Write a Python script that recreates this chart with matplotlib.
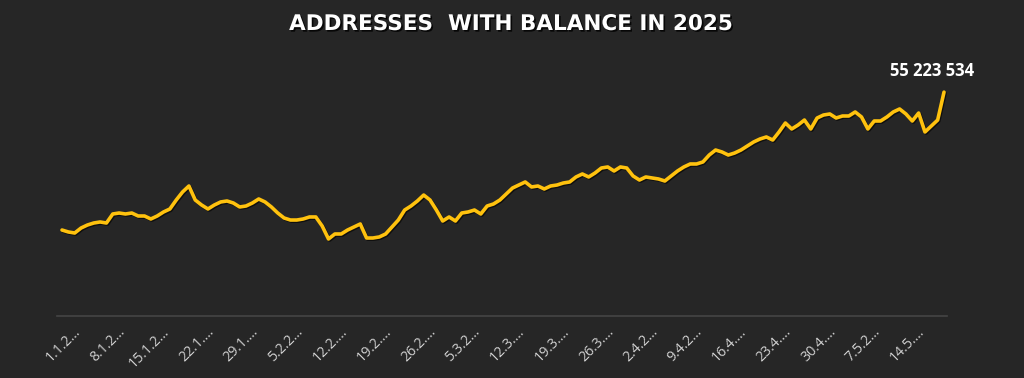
import matplotlib
matplotlib.use("Agg")
import matplotlib.pyplot as plt
import matplotlib.patheffects as pe
import matplotlib.transforms as mtransforms
import numpy as np
import pandas as pd

# ---- data (thousands of addresses), daily from 1 Jan 2025 ----
start_date = "2025-01-01"
values_k = [
    53238, 53210, 53195, 53267, 53310, 53339, 53354, 53339, 53469, 53483,
    53469, 53483, 53440, 53440, 53397, 53440, 53498, 53541, 53670, 53786,
    53872, 53670, 53598, 53541, 53598, 53642, 53656, 53627, 53570, 53584,
    53627, 53685, 53642, 53570, 53483, 53411, 53382, 53382, 53397, 53426,
    53426, 53296, 53109, 53181, 53181, 53238, 53282, 53325, 53123, 53123,
    53138, 53181, 53282, 53382, 53526, 53584, 53656, 53742, 53670, 53526,
    53368, 53426, 53368, 53483, 53498, 53526, 53469, 53584, 53613, 53670,
    53757, 53843, 53886, 53930, 53858, 53872, 53829, 53872, 53886, 53915,
    53930, 54002, 54045, 54002, 54059, 54131, 54146, 54088, 54146, 54131,
    54016, 53958, 54002, 53987, 53973, 53944, 54016, 54088, 54146, 54189,
    54189, 54218, 54318, 54390, 54362, 54318, 54347, 54390, 54448, 54506,
    54549, 54578, 54534, 54650, 54779, 54693, 54750, 54822, 54693, 54851,
    54894, 54909, 54851, 54880, 54880, 54938, 54866, 54693, 54808, 54808,
    54866, 54938, 54981, 54909, 54808, 54923, 54650, 54736, 54822, 55223.534,
]
tick_days = [0, 7, 14, 21, 28, 35, 42, 49, 56, 63, 70, 77, 84, 91, 98, 105, 112, 119, 126, 133]
tick_labels = ["1.1.2...", "8.1.2...", "15.1.2...", "22.1....", "29.1....", "5.2.2...",
               "12.2....", "19.2....", "26.2....", "5.3.2...", "12.3....", "19.3....",
               "26.3....", "2.4.2...", "9.4.2...", "16.4....", "23.4....", "30.4....",
               "7.5.2...", "14.5...."]
title = "ADDRESSES  WITH BALANCE IN 2025"

dates = pd.date_range(start_date, periods=len(values_k), freq="D")
values = np.array(values_k) * 1000.0
days = np.arange(len(values))

BG = "#262626"
LINE = "#FFC20E"

fig = plt.figure(figsize=(10.24, 3.78), dpi=100, facecolor=BG)
ax = fig.add_axes([57 / 1024, 62 / 378, 890 / 1024, 256 / 378])
ax.set_facecolor(BG)

ax.plot(days, values, color=LINE, lw=2.6, solid_joinstyle="round", solid_capstyle="round",
        path_effects=[pe.SimpleLineShadow(offset=(0.8, -0.8), shadow_color="black", alpha=0.6),
                      pe.Normal()])

ax.set_xlim(-0.79, 139.47)
ax.set_ylim(52000000, 52000000 + 256 * 14400)

for s in ["top", "left", "right"]:
    ax.spines[s].set_visible(False)
ax.spines["bottom"].set_color("#454545")
ax.spines["bottom"].set_linewidth(1.2)
ax.set_yticks([])

ax.set_xticks(tick_days)
ax.set_xticklabels(tick_labels, rotation=45, ha="right", va="top", rotation_mode="anchor",
                   fontsize=10.2, color="#d0d0d0", family=["Open Sans", "DejaVu Sans"])
ax.tick_params(axis="x", length=0, pad=6)
offset = mtransforms.ScaledTranslation(11 / 100, 0, fig.dpi_scale_trans)
for lab in ax.get_xticklabels():
    lab.set_transform(lab.get_transform() + offset)

last_val = values[-1]
label = f"{int(round(last_val)):,}".replace(",", " ")
ax.annotate(label, xy=(days[-1], last_val), xytext=(-12, 12), textcoords="offset pixels",
            ha="center", va="bottom", fontsize=12, fontweight="bold", color="white",
            family=["Open Sans", "DejaVu Sans"])

fig.text(511 / 1024, 1 - 24 / 378, title, ha="center", va="center", fontsize=15.5,
         fontweight="bold", color="white", family=["DejaVu Sans"],
         path_effects=[pe.withSimplePatchShadow(offset=(1.2, -1.2), shadow_rgbFace="black", alpha=0.8)])

fig.savefig("out.png", dpi=100, facecolor=BG)
